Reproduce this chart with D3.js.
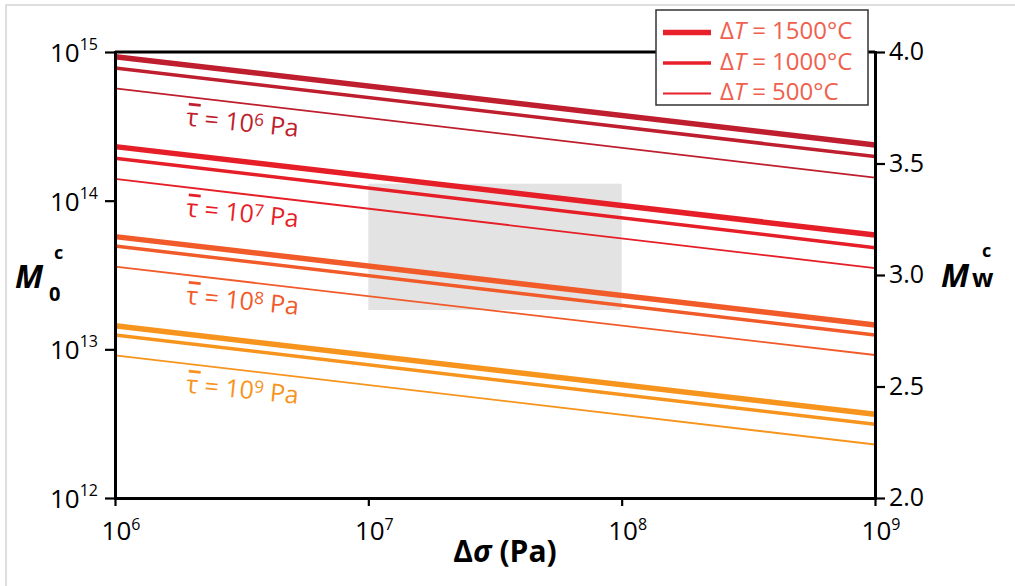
<!DOCTYPE html>
<html>
<head>
<meta charset="utf-8">
<script src="https://cdn.jsdelivr.net/npm/d3@7"></script>
<style>
  body { margin: 0; background: #fff; }
  svg { font-family: "Open Sans", "Noto Sans", sans-serif; }
</style>
</head>
<body>
<div id="container"></div>
<script>
/* DATA */
// Δσ range of the lines (Pa)
const dSigma = [1e6, 1e9];
// M0 at Δσ = 1e6 and 1e9, for ΔT = 1500, 1000, 500 °C
const m0Tau6 = [[9.3e14, 2.37e14], [7.8e14, 1.98e14], [5.7e14, 1.43e14]];
const m0Tau7 = [[2.31e14, 5.87e13], [1.93e14, 4.83e13], [1.40e14, 3.52e13]];
const m0Tau8 = [[5.73e13, 1.46e13], [4.95e13, 1.25e13], [3.60e13, 9.16e12]];
const m0Tau9 = [[1.44e13, 3.66e12], [1.25e13, 3.13e12], [9.12e12, 2.29e12]];
const tauExp = ["6", "7", "8", "9"];
const deltaT = [1500, 1000, 500];
// grey box: Δσ range and M0 range
const boxSigma = [1e7, 1e8];
const boxM0 = [1.84e13, 1.3e14];
const xTicks = [1e6, 1e7, 1e8, 1e9];
const yTicks = [1e12, 1e13, 1e14, 1e15];
const mwTicks = [2.0, 2.5, 3.0, 3.5, 4.0];

/* CONSTANTS */
const width = 1015, height = 586,
      margin = {top: 52, bottom: 88, left: 115, right: 140};

const groupColors = ["#be1e2d", "#e61e27", "#f15a29", "#f7941d"];
const widths = [5.5, 3.5, 1.8];
const legendColor = "#e8202a";
const legendText = "#f0604e";

const groups = [m0Tau6, m0Tau7, m0Tau8, m0Tau9];

const svg = d3.select("#container")
  .append("svg")
  .attr("width", width)
  .attr("height", height);

// outer light frame
svg.append("rect")
  .attr("x", 6).attr("y", 5)
  .attr("width", width + 20).attr("height", height + 20)
  .attr("fill", "#fff")
  .attr("stroke", "#d4d4d4")
  .attr("stroke-width", 1.5);

/* SCALES */
const xScale = d3.scaleLog()
  .domain([1e6, 1e9])
  .range([margin.left, width - margin.right]);

const yScale = d3.scaleLog()
  .domain([1e12, 1e15])
  .range([height - margin.bottom, margin.top]);

const mwScale = d3.scaleLinear()
  .domain([2, 4])
  .range([height - margin.bottom, margin.top]);

// grey box
svg.append("rect")
  .attr("x", xScale(boxSigma[0]))
  .attr("y", yScale(boxM0[1]))
  .attr("width", xScale(boxSigma[1]) - xScale(boxSigma[0]))
  .attr("height", yScale(boxM0[0]) - yScale(boxM0[1]))
  .attr("fill", "#e3e3e3");

// lines
const lineGen = d3.line()
  .x(d => xScale(d[0]))
  .y(d => yScale(d[1]));

groups.forEach((g, gi) => {
  svg.selectAll(".line-g" + gi)
    .data(g)
    .join("path")
    .attr("class", "line-g" + gi)
    .attr("d", d => lineGen([[dSigma[0], d[0]], [dSigma[1], d[1]]]))
    .attr("fill", "none")
    .attr("stroke", groupColors[gi])
    .attr("stroke-width", (d, i) => widths[i]);
});

// tau labels, placed under the thin line of each group
const labelSigma = 1.9e6;
groups.forEach((g, gi) => {
  const thin = g[2];
  const x0 = xScale(dSigma[0]), x1 = xScale(dSigma[1]);
  const y0 = yScale(thin[0]), y1 = yScale(thin[1]);
  const lx = xScale(labelSigma);
  const ly = y0 + (y1 - y0) * (lx - x0) / (x1 - x0) + 29;
  const ang = Math.atan2(y1 - y0, x1 - x0) * 180 / Math.PI * 0.85;
  const lab = svg.append("g")
    .attr("transform", `translate(${lx},${ly}) rotate(${ang})`)
    .attr("fill", groupColors[gi]);
  lab.append("rect")
    .attr("x", 1).attr("y", -23)
    .attr("width", 12).attr("height", 2.8);
  const t = lab.append("text")
    .attr("font-size", 25);
  t.append("tspan").text("τ");
  t.append("tspan").text(" = 10");
  t.append("tspan").attr("font-size", 17).attr("dy", -7).text(tauExp[gi]);
  t.append("tspan").attr("dy", 7).text(" Pa");
});

/* AXES */
const axisStroke = 3;

const xAxis = d3.axisBottom(xScale).tickValues(xTicks).tickSize(8).tickSizeOuter(0).tickFormat("");
const yAxis = d3.axisLeft(yScale).tickValues(yTicks).tickSize(10).tickSizeOuter(0).tickFormat("");
const mwAxis = d3.axisRight(mwScale).tickValues(mwTicks).tickSize(10).tickSizeOuter(0).tickFormat("");

// top frame line (sits under the legend)
svg.append("line")
  .attr("x1", margin.left).attr("x2", width - margin.right)
  .attr("y1", margin.top).attr("y2", margin.top)
  .attr("stroke", "#000").attr("stroke-width", axisStroke);

const xAxisGroup = svg.append("g")
  .attr("transform", `translate(0, ${height - margin.bottom})`)
  .call(xAxis);
const yAxisGroup = svg.append("g")
  .attr("transform", `translate(${margin.left}, 0)`)
  .call(yAxis);
const mwAxisGroup = svg.append("g")
  .attr("transform", `translate(${width - margin.right}, 0)`)
  .call(mwAxis);

[xAxisGroup, yAxisGroup, mwAxisGroup].forEach(g => {
  g.select(".domain").attr("stroke-width", axisStroke).attr("stroke-linecap", "square");
  g.selectAll(".tick line").attr("stroke-width", 2.2);
});

// tick labels
svg.selectAll(".xlab")
  .data(xTicks)
  .join("text")
  .attr("class", "xlab")
  .attr("x", d => xScale(d) + 6)
  .attr("y", height - margin.bottom + 42)
  .attr("text-anchor", "middle")
  .attr("font-size", 26)
  .each(function(d) {
    const t = d3.select(this);
    t.append("tspan").text("10");
    t.append("tspan").attr("font-size", 16).attr("dy", -10).text(Math.round(Math.log10(d)));
  });

svg.selectAll(".ylab")
  .data(yTicks)
  .join("text")
  .attr("class", "ylab")
  .attr("x", margin.left - 17)
  .attr("y", d => yScale(d) + 10)
  .attr("text-anchor", "end")
  .attr("font-size", 26)
  .each(function(d) {
    const t = d3.select(this);
    t.append("tspan").text("10");
    t.append("tspan").attr("font-size", 16).attr("dy", -12).text(Math.round(Math.log10(d)));
  });

svg.selectAll(".mwlab")
  .data(mwTicks)
  .join("text")
  .attr("class", "mwlab")
  .attr("x", width - margin.right + 14)
  .attr("y", d => mwScale(d) + 8)
  .attr("font-size", 25)
  .text(d => d.toFixed(1));

// axis titles
const xTitle = svg.append("text")
  .attr("x", 505)
  .attr("y", 562)
  .attr("text-anchor", "middle")
  .attr("font-size", 30)
  .attr("font-weight", "bold");
xTitle.append("tspan").text("Δ");
xTitle.append("tspan").attr("font-style", "italic").text("σ");
xTitle.append("tspan").text(" (Pa)");

const m0Title = svg.append("g").attr("font-weight", "bold");
m0Title.append("text")
  .attr("x", 15).attr("y", 288)
  .attr("font-size", 32).attr("font-style", "italic")
  .text("M");
m0Title.append("text")
  .attr("x", 49).attr("y", 301)
  .attr("font-size", 20)
  .text("0");
m0Title.append("text")
  .attr("x", 54).attr("y", 259)
  .attr("font-size", 18)
  .text("c");

const mwTitle = svg.append("g").attr("font-weight", "bold");
mwTitle.append("text")
  .attr("x", 941).attr("y", 287)
  .attr("font-size", 32).attr("font-style", "italic")
  .text("M");
mwTitle.append("text")
  .attr("x", 972).attr("y", 287)
  .attr("font-size", 25)
  .text("w");
mwTitle.append("text")
  .attr("x", 982).attr("y", 257)
  .attr("font-size", 18)
  .text("c");

/* LEGEND */
const legend = svg.append("g");
legend.append("rect")
  .attr("x", 656).attr("y", 10)
  .attr("width", 212).attr("height", 95)
  .attr("fill", "#fff")
  .attr("stroke", "#333")
  .attr("stroke-width", 1.5);

const legendItems = legend.selectAll(".leg")
  .data(deltaT)
  .join("g")
  .attr("class", "leg")
  .attr("transform", (d, i) => `translate(663, ${39 + i * 30.5})`);

legendItems.append("line")
  .attr("x1", 0).attr("x2", 48)
  .attr("y1", -6.5).attr("y2", -6.5)
  .attr("stroke", legendColor)
  .attr("stroke-width", (d, i) => widths[i]);

legendItems.append("text")
  .attr("x", 57)
  .attr("y", 0)
  .attr("font-size", 24)
  .attr("fill", legendText)
  .each(function(d) {
    const t = d3.select(this);
    t.append("tspan").text("Δ");
    t.append("tspan").attr("font-style", "italic").text("T");
    t.append("tspan").text(` = ${d}°C`);
  });
</script>
</body>
</html>
